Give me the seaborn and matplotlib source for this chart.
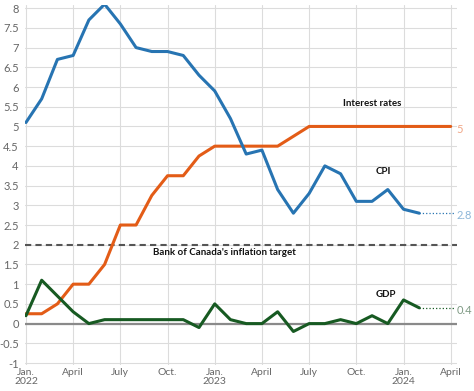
import matplotlib
matplotlib.use("Agg")
import matplotlib.pyplot as plt
import seaborn as sns
import pandas as pd

# monthly series, Jan 2022 = month 0
cpi = [5.1, 5.7, 6.7, 6.8, 7.7, 8.1, 7.6, 7.0, 6.9, 6.9, 6.8, 6.3,
       5.9, 5.2, 4.3, 4.4, 3.4, 2.8, 3.3, 4.0, 3.8, 3.1, 3.1, 3.4,
       2.9, 2.8]
rates = [0.25, 0.25, 0.5, 1.0, 1.0, 1.5, 2.5, 2.5, 3.25, 3.75, 3.75, 4.25,
         4.5, 4.5, 4.5, 4.5, 4.5, 4.75, 5.0, 5.0, 5.0, 5.0, 5.0, 5.0,
         5.0, 5.0, 5.0, 5.0]
gdp = [0.2, 1.1, 0.7, 0.3, 0.0, 0.1, 0.1, 0.1, 0.1, 0.1, 0.1, -0.1,
       0.5, 0.1, 0.0, 0.0, 0.3, -0.2, 0.0, 0.0, 0.1, 0.0, 0.2, 0.0,
       0.6, 0.4]
target = 2
tick_months = [0, 3, 6, 9, 12, 15, 18, 21, 24, 27]
tick_labels = ["Jan.\n2022", "April", "July", "Oct.", "Jan.\n2023", "April",
               "July", "Oct.", "Jan.\n2024", "April"]

blue = "#2774b2"
orange = "#e35c17"
green = "#175a22"

df_cpi = pd.DataFrame({"month": range(len(cpi)), "value": cpi})
df_rate = pd.DataFrame({"month": range(len(rates)), "value": rates})
df_gdp = pd.DataFrame({"month": range(len(gdp)), "value": gdp})

sns.set_theme(style="whitegrid")
plt.rcParams["font.family"] = ["Lato", "DejaVu Sans"]

fig = plt.figure(figsize=(4.74, 3.91), dpi=100)
ax = fig.add_axes([25 / 474, 26 / 391, 432 / 474, 360 / 391])

ax.grid(True, color="#dcdcdc", linewidth=0.8)
for s in ax.spines.values():
    s.set_visible(False)

ax.axhline(0, color="#8a8a8a", linewidth=1.6, zorder=2)
ax.axhline(target, color="#555555", linewidth=1.5, linestyle=(0, (3, 2)), zorder=2)

sns.lineplot(data=df_rate, x="month", y="value", ax=ax, color=orange, linewidth=2.2, zorder=3)
sns.lineplot(data=df_cpi, x="month", y="value", ax=ax, color=blue, linewidth=2.2, zorder=3)
sns.lineplot(data=df_gdp, x="month", y="value", ax=ax, color=green, linewidth=2.2, zorder=3)

# dotted leaders to end labels
end_x = 27.2
ax.plot([len(cpi) - 1, end_x], [cpi[-1], cpi[-1]], color=blue, linestyle=":", linewidth=0.9)
ax.plot([len(gdp) - 1, end_x], [gdp[-1], gdp[-1]], color=green, linestyle=":", linewidth=0.9)
ax.text(27.35, rates[-1] - 0.07, "5", color="#f0a585", fontsize=8, va="center", ha="left")
ax.text(27.35, cpi[-1] - 0.07, "2.8", color="#8db6d8", fontsize=8, va="center", ha="left")
ax.text(27.35, gdp[-1] - 0.07, "0.4", color="#7f9a84", fontsize=8, va="center", ha="left")

lab = dict(fontsize=7, fontweight="bold", color="#111111", va="center")
ax.text(22.0, 5.58, "Interest rates", ha="center", **lab)
ax.text(22.7, 3.86, "CPI", ha="center", **lab)
ax.text(22.9, 0.74, "GDP", ha="center", **lab)
ax.text(8.1, 1.8, "Bank of Canada's inflation target", ha="left", **lab)

ax.set_xlim(-0.06, 27.4)
ax.set_ylim(-1.05, 8.08)
ax.set_yticks([i / 2 for i in range(-2, 17)])
ax.set_yticklabels([f"{i / 2:g}" for i in range(-2, 17)])
ax.set_xticks(tick_months)
ax.set_xticklabels(tick_labels, linespacing=0.95)
ax.tick_params(axis="both", length=0, labelcolor="#666666")
ax.tick_params(axis="y", pad=4.5, labelsize=8)
ax.tick_params(axis="x", pad=2.5, labelsize=7.5)
ax.set_xlabel("")
ax.set_ylabel("")

fig.savefig("out.png", dpi=100)
